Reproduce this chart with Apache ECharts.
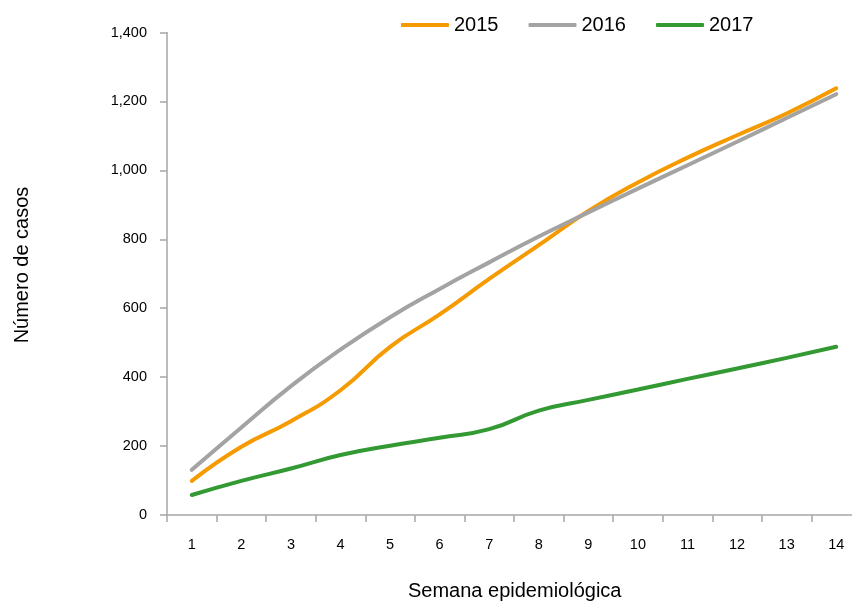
<!DOCTYPE html>
<html>
<head>
<meta charset="utf-8">
<script src="https://cdn.jsdelivr.net/npm/echarts@6/dist/echarts.min.js"></script>
<style>html,body{margin:0;padding:0;background:#fff;overflow:hidden;}#c{width:880px;height:603px;}</style>
</head>
<body>
<div id="c"></div>
<script>
const weeks = ['1','2','3','4','5','6','7','8','9','10','11','12','13','14'];
const s2015 = [99, 198, 272, 362, 488, 582, 685, 783, 882, 965, 1037, 1102, 1165, 1238];
const s2016 = [131, 254, 374, 480, 574, 656, 733, 808, 878, 947, 1015, 1083, 1152, 1221];
const s2017 = [58, 99, 135, 174, 201, 224, 249, 303, 334, 364, 395, 425, 456, 488];
const yTicks = [0, 200, 400, 600, 800, 1000, 1200, 1400];

const FONT = 'Liberation Sans';
const chart = echarts.init(document.getElementById('c'));
const mk = (name, data, color) => ({
  name, type: 'line', data, smooth: 0.5, symbol: 'none',
  lineStyle: { width: 4, color, cap: 'round' }, itemStyle: { color }
});
chart.setOption({
  animation: false,
  textStyle: { fontFamily: FONT },
  legend: {
    left: 396, top: 10, itemWidth: 48, itemHeight: 4, itemGap: 30, icon: 'roundRect',
    textStyle: { fontSize: 20, color: '#000', fontFamily: FONT, padding: [0,0,0,0] },
    data: ['2015','2016','2017']
  },
  grid: { left: 167, top: 32.5, width: 694, bottom: 88 },
  xAxis: {
    type: 'category', data: weeks, boundaryGap: true,
    axisLine: { lineStyle: { color: '#A6A6A6', width: 1.5 } },
    axisTick: { show: true, length: 7, lineStyle: { color: '#A6A6A6', width: 1.5 } },
    axisLabel: { color: '#000', fontSize: 14.5, margin: 22, fontFamily: FONT }
  },
  yAxis: {
    type: 'value', min: yTicks[0], max: yTicks[yTicks.length-1], interval: 200,
    axisLine: { show: true, lineStyle: { color: '#A6A6A6', width: 1.5 } },
    axisTick: { show: true, length: 7, lineStyle: { color: '#A6A6A6', width: 1.5 } },
    splitLine: { show: false },
    axisLabel: { color: '#000', fontSize: 14.5, margin: 20, fontFamily: FONT,
      formatter: v => v.toLocaleString('en-US') }
  },
  graphic: [
    { type: 'text', left: 408, top: 581, style: { text: 'Semana epidemiológica', fontSize: 20, fontFamily: FONT, fill: '#000' } },
    { type: 'text', x: 22, y: 265, rotation: Math.PI/2,
      style: { text: 'Número de casos', fontSize: 20, fontFamily: FONT, fill: '#000', align: 'center', verticalAlign: 'middle' } }
  ],
  series: [
    mk('2015', s2015, '#F59A00'),
    mk('2016', s2016, '#A3A3A3'),
    mk('2017', s2017, '#339933')
  ]
});
</script>
</body>
</html>
